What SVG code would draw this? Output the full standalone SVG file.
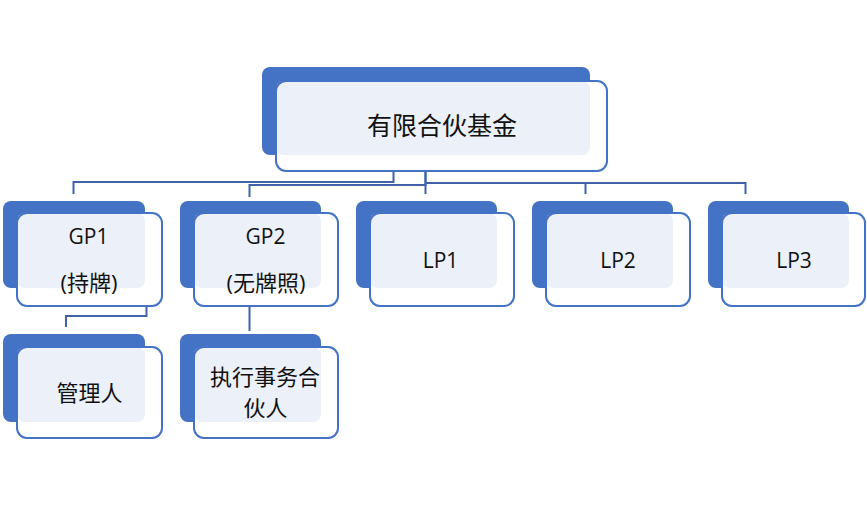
<svg xmlns="http://www.w3.org/2000/svg" width="867" height="505" viewBox="0 0 867 505">
<style>
.back{fill:#4472C4}
.face{fill:#FFFFFF}
.lite{fill:#EBF0F9}
.edge{fill:none;stroke:#4472C4;stroke-width:2}
.conn{fill:none;stroke:#3F62A8;stroke-width:2}
.faint{fill:none;stroke:#E2E7F2;stroke-width:2}
.t{font-family:"Open Sans","Noto Sans CJK SC",sans-serif;fill:#111111;text-anchor:middle}
.lat{font-size:21px}
.cjk{font-size:22px}
</style>
<rect width="867" height="505" fill="#FFFFFF"/>
<g id="connectors">
<path class="faint" d="M393.5 156V171M425.5 156V171M146.5 289V306M249.5 289V306"/>
<path class="conn" d="M393.5 171V182H73.5V194"/>
<path class="conn" d="M425.5 171V185H249.5V197"/>
<path class="conn" d="M425.5 171V194M425.5 183H745.5V194M585.5 183V194"/>
<path class="conn" d="M146.5 306V316H66V327"/>
<path class="conn" d="M249.5 306V331"/>
</g>
<g id="fund">
<rect class="back" x="262" y="67" width="328" height="88" rx="8"/>
<rect class="face" x="276" y="81" width="331" height="90" rx="10"/>
<rect class="lite" x="276" y="81" width="314" height="74" rx="8"/>
<rect class="edge" x="276" y="81" width="331" height="90" rx="10"/>
<text class="t" x="442" y="135" font-size="25">有限合伙基金</text>
</g>
<g id="gp1">
<rect class="back" x="3" y="201" width="142" height="87" rx="8"/>
<rect class="face" x="17" y="213" width="145" height="93" rx="10"/>
<rect class="lite" x="17" y="213" width="128" height="75" rx="8"/>
<rect class="edge" x="17" y="213" width="145" height="93" rx="10"/>
<text class="t lat" x="88.5" y="244">GP1</text>
<text class="t cjk" x="89" y="291">(持牌)</text>
</g>
<g id="gp2">
<rect class="back" x="180" y="201" width="141" height="87" rx="8"/>
<rect class="face" x="194" y="213" width="144" height="93" rx="10"/>
<rect class="lite" x="194" y="213" width="127" height="75" rx="8"/>
<rect class="edge" x="194" y="213" width="144" height="93" rx="10"/>
<text class="t lat" x="265.5" y="244">GP2</text>
<text class="t cjk" x="266" y="291">(无牌照)</text>
</g>
<g id="lp1">
<rect class="back" x="356" y="201" width="141" height="87" rx="8"/>
<rect class="face" x="370" y="213" width="144" height="93" rx="10"/>
<rect class="lite" x="370" y="213" width="127" height="75" rx="8"/>
<rect class="edge" x="370" y="213" width="144" height="93" rx="10"/>
<text class="t lat" x="440.5" y="268">LP1</text>
</g>
<g id="lp2">
<rect class="back" x="532" y="201" width="141" height="87" rx="8"/>
<rect class="face" x="546" y="213" width="144" height="93" rx="10"/>
<rect class="lite" x="546" y="213" width="127" height="75" rx="8"/>
<rect class="edge" x="546" y="213" width="144" height="93" rx="10"/>
<text class="t lat" x="618" y="268">LP2</text>
</g>
<g id="lp3">
<rect class="back" x="708" y="201" width="141" height="87" rx="8"/>
<rect class="face" x="722" y="213" width="143" height="93" rx="10"/>
<rect class="lite" x="722" y="213" width="127" height="75" rx="8"/>
<rect class="edge" x="722" y="213" width="143" height="93" rx="10"/>
<text class="t lat" x="794" y="268">LP3</text>
</g>
<g id="manager">
<rect class="back" x="3" y="334" width="142" height="88" rx="8"/>
<rect class="face" x="17" y="347" width="145" height="91" rx="10"/>
<rect class="lite" x="17" y="347" width="128" height="75" rx="8"/>
<rect class="edge" x="17" y="347" width="145" height="91" rx="10"/>
<text class="t cjk" x="89.5" y="401">管理人</text>
</g>
<g id="executive">
<rect class="back" x="180" y="334" width="141" height="88" rx="8"/>
<rect class="face" x="194" y="347" width="144" height="91" rx="10"/>
<rect class="lite" x="194" y="347" width="127" height="75" rx="8"/>
<rect class="edge" x="194" y="347" width="144" height="91" rx="10"/>
<text class="t cjk" x="265" y="385">执行事务合</text>
<text class="t cjk" x="265.5" y="416">伙人</text>
</g>
</svg>
